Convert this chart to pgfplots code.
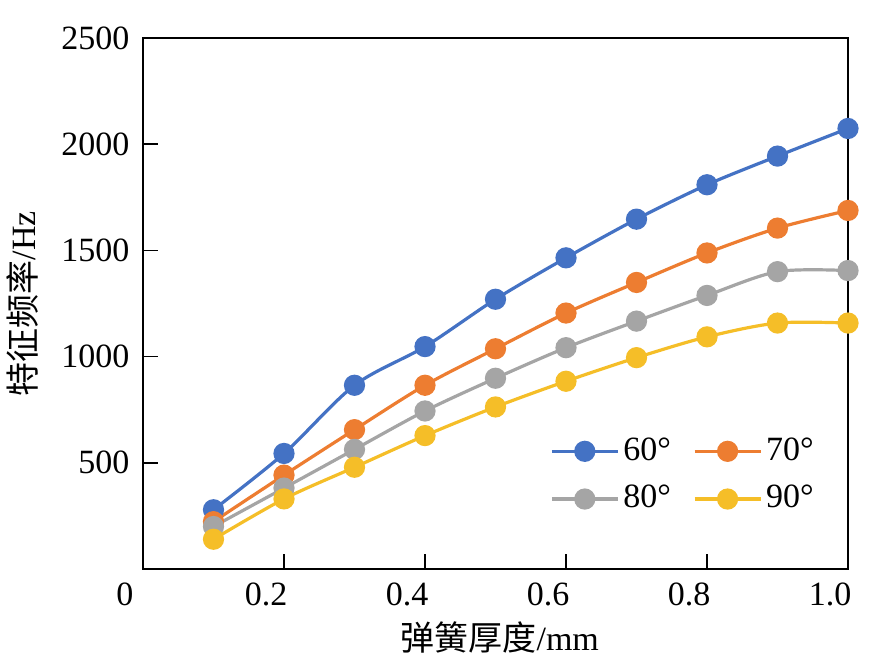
\documentclass[border=0pt]{standalone}
\usepackage{fontspec}
\setmainfont{Liberation Serif}
\newfontfamily\cjk{Noto Sans CJK SC}
\usepackage{pgfplots}
\pgfplotsset{compat=1.18}
\definecolor{cA}{RGB}{68,114,196}
\definecolor{cB}{RGB}{237,125,49}
\definecolor{cC}{RGB}{165,165,165}
\definecolor{cD}{RGB}{245,190,40}
\begin{document}
\fontsize{17}{20}\selectfont
\begin{tikzpicture}
\useasboundingbox (-71.5pt,-46.5pt) rectangle (363.5pt,284.5pt);
\begin{axis}[
  scale only axis, width=352.5pt, height=265.5pt,
  xmin=0, xmax=1.0, ymin=0, ymax=2500,
  xtick={0,0.2,0.4,0.6,0.8,1.0},
  xticklabels={0,0.2,0.4,0.6,0.8,1.0},
  ytick={500,1000,1500,2000,2500},
  /pgf/number format/assume math mode=true,
  /pgf/number format/1000 sep={},
  tick align=inside, xtick pos=lower, ytick pos=left,
  major tick length=7.5pt,
  axis line style={line width=1pt}, every tick/.style={black, line width=0.8pt},
  xticklabel style={xshift=-9pt, yshift=-1pt},
  yticklabel style={xshift=-1pt},
  xlabel={{\cjk 弹簧厚度}/mm},
  ylabel={{\cjk 特征频率}/Hz},
  xlabel style={at={(axis description cs:0.506,-0.128)}, anchor=center},
  ylabel style={at={(axis description cs:-0.1716,0.5)}, anchor=center},
  every axis plot/.append style={line width=1.6pt, smooth, mark=*, mark size=4.5pt},
  legend columns=2,
  legend style={draw=none, fill=none, at={(rel axis cs:0.577,0.256)}, anchor=north west,
    /tikz/every even column/.append style={column sep=9pt},
    row sep=6pt, inner sep=0pt},
  legend cell align=left,
  legend image code/.code={\draw[#1, mark=none] (0pt,0pt) -- (33pt,0pt); \draw[#1] plot[only marks] coordinates {(16.5pt,0pt)};},
]
\addplot[color=cA, mark options={fill=cA, draw=cA}] coordinates {
(0.1,279) (0.2,544) (0.3,865) (0.4,1047) (0.5,1270) (0.6,1465) (0.7,1647) (0.8,1809) (0.9,1944) (1.0,2074)};
\addlegendentry{60°}
\addplot[color=cB, mark options={fill=cB, draw=cB}] coordinates {
(0.1,223) (0.2,442) (0.3,656) (0.4,865) (0.5,1037) (0.6,1205) (0.7,1349) (0.8,1488) (0.9,1605) (1.0,1688)};
\addlegendentry{70°}
\addplot[color=cC, mark options={fill=cC, draw=cC}] coordinates {
(0.1,200) (0.2,381) (0.3,563) (0.4,744) (0.5,898) (0.6,1042) (0.7,1167) (0.8,1288) (0.9,1400) (1.0,1405)};
\addlegendentry{80°}
\addplot[color=cD, mark options={fill=cD, draw=cD}] coordinates {
(0.1,140) (0.2,330) (0.3,479) (0.4,628) (0.5,763) (0.6,884) (0.7,995) (0.8,1093) (0.9,1158) (1.0,1158)};
\addlegendentry{90°}
\end{axis}
\end{tikzpicture}
\end{document}
